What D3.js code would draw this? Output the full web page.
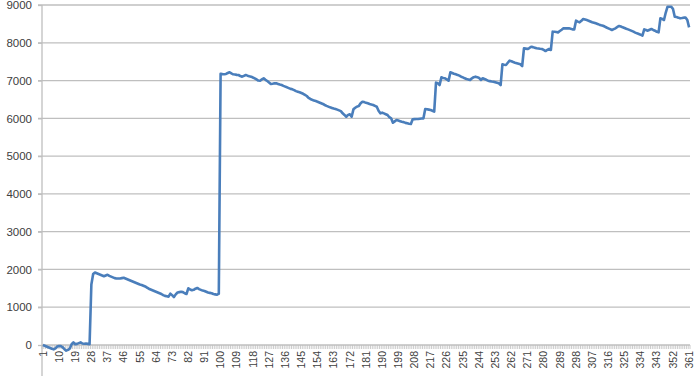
<!DOCTYPE html>
<html>
<head>
<meta charset="utf-8">
<script src="https://cdn.jsdelivr.net/npm/d3@7"></script>
<style>
  body { margin: 0; background: #fff; }
  svg text { font-family: "Liberation Sans", Arial, sans-serif; fill: #404040; }
</style>
</head>
<body>
<svg id="chart" width="700" height="376"></svg>
<script>
// values, ten per row (category 1..361)
const values = [].concat(
  [0, -20, -40, -60, -80, -100, -115, -90, -40, -25],
  [-30, -60, -110, -150, -130, -90, 20, 70, 20, 30],
  [50, 70, 40, 35, 40, 30, 20, 1600, 1880, 1920],
  [1900, 1880, 1860, 1840, 1820, 1840, 1860, 1830, 1810, 1790],
  [1770, 1760, 1760, 1760, 1770, 1780, 1760, 1740, 1720, 1700],
  [1680, 1660, 1640, 1620, 1600, 1590, 1570, 1550, 1520, 1490],
  [1470, 1450, 1430, 1410, 1390, 1370, 1350, 1320, 1300, 1290],
  [1280, 1360, 1320, 1270, 1340, 1390, 1400, 1410, 1400, 1370],
  [1350, 1500, 1470, 1450, 1460, 1490, 1510, 1480, 1460, 1440],
  [1430, 1410, 1390, 1380, 1370, 1350, 1340, 1330, 1360, 7180],
  [7170, 7165, 7175, 7200, 7220, 7190, 7165, 7160, 7150, 7147],
  [7120, 7103, 7125, 7147, 7130, 7115, 7103, 7080, 7059, 7030],
  [7000, 6996, 7030, 7059, 7020, 6988, 6950, 6909, 6915, 6926],
  [6926, 6910, 6895, 6882, 6860, 6840, 6821, 6800, 6780, 6768],
  [6745, 6720, 6705, 6690, 6670, 6650, 6620, 6591, 6540, 6512],
  [6490, 6470, 6458, 6440, 6420, 6400, 6380, 6353, 6330, 6310],
  [6291, 6275, 6260, 6247, 6230, 6210, 6190, 6132, 6090, 6043],
  [6090, 6106, 6043, 6238, 6280, 6310, 6326, 6400, 6440, 6430],
  [6410, 6397, 6380, 6365, 6353, 6330, 6308, 6200, 6132, 6150],
  [6130, 6110, 6089, 6030, 6000, 5884, 5920, 5956, 5940, 5925],
  [5911, 5900, 5880, 5868, 5855, 5850, 5974, 5980, 5982, 5982],
  [5990, 5995, 6000, 6247, 6240, 6230, 6220, 6200, 6176, 6944],
  [6930, 6882, 7085, 7070, 7059, 7030, 6996, 7218, 7200, 7180],
  [7165, 7150, 7130, 7103, 7085, 7060, 7041, 7030, 7015, 7060],
  [7090, 7103, 7090, 7068, 7015, 7059, 7040, 7020, 6996, 6985],
  [6975, 6970, 6955, 6940, 6926, 6882, 7430, 7420, 7412, 7470],
  [7526, 7510, 7490, 7473, 7460, 7445, 7430, 7385, 7853, 7845],
  [7835, 7860, 7896, 7885, 7870, 7853, 7848, 7840, 7835, 7810],
  [7782, 7810, 7835, 7809, 8294, 8290, 8285, 8276, 8310, 8345],
  [8382, 8382, 8382, 8382, 8370, 8355, 8355, 8585, 8560, 8541],
  [8580, 8629, 8615, 8600, 8585, 8565, 8545, 8532, 8515, 8497],
  [8480, 8465, 8452, 8430, 8405, 8382, 8360, 8338, 8360, 8382],
  [8420, 8444, 8430, 8409, 8390, 8370, 8355, 8335, 8315, 8294],
  [8270, 8250, 8232, 8215, 8188, 8355, 8340, 8320, 8345, 8364],
  [8340, 8320, 8290, 8276, 8647, 8630, 8603, 8800, 8955, 8955],
  [8955, 8900, 8691, 8680, 8665, 8647, 8655, 8665, 8670, 8603, 8409]
);
const categories = values.map((v, i) => i + 1);
const tickLabels = categories.filter((c) => (c - 1) % 9 === 0);
const yTicks = [0, 1000, 2000, 3000, 4000, 5000, 6000, 7000, 8000, 9000];
console.log(values.length);

const svg = d3.select("#chart");
const margin = { left: 42, right: 690, top: 5, bottom: 345 };

const x = d3.scaleBand().domain(categories).range([margin.left, margin.right]).paddingInner(0).paddingOuter(0);
const y = d3.scaleLinear().domain([0, 9000]).range([margin.bottom, margin.top]);

// gridlines
svg.append("g")
  .selectAll("line")
  .data(yTicks.filter((t) => t > 0))
  .join("line")
  .attr("x1", margin.left - 4)
  .attr("x2", margin.right)
  .attr("y1", (d) => y(d))
  .attr("y2", (d) => y(d))
  .attr("stroke", "#bfbfbf")
  .attr("stroke-width", 1.3);

// y axis
const yAxis = svg.append("g")
  .attr("transform", `translate(${margin.left},0)`)
  .call(d3.axisLeft(y).tickValues(yTicks).tickSize(4).tickPadding(6).tickFormat(d3.format("d")));
yAxis.select(".domain").remove();
yAxis.selectAll("line").attr("stroke", "#bfbfbf").attr("stroke-width", 1.3);
yAxis.selectAll("text").style("font-size", "11.5px").attr("fill", "#404040");
svg.append("line")
  .attr("x1", margin.left).attr("x2", margin.left)
  .attr("y1", margin.top).attr("y2", 376)
  .attr("stroke", "#bfbfbf").attr("stroke-width", 1.3);

// x axis: line, a tick at every category boundary, labels every 9th category
svg.append("line")
  .attr("x1", margin.left).attr("x2", margin.right)
  .attr("y1", margin.bottom).attr("y2", margin.bottom)
  .attr("stroke", "#bfbfbf").attr("stroke-width", 1.3);
svg.append("g")
  .selectAll("line")
  .data(categories.concat([null]))
  .join("line")
  .attr("x1", (d) => (d === null ? margin.right : x(d)))
  .attr("x2", (d) => (d === null ? margin.right : x(d)))
  .attr("y1", margin.bottom)
  .attr("y2", margin.bottom + 4)
  .attr("stroke", "#bfbfbf")
  .attr("stroke-width", 0.8);
svg.append("g")
  .selectAll("text")
  .data(tickLabels)
  .join("text")
  .attr("transform", (d) => `translate(${x(d) + x.bandwidth() / 2},${margin.bottom + 6}) rotate(-90)`)
  .attr("text-anchor", "end")
  .attr("dy", "0.35em")
  .style("font-size", "10.5px")
  .text((d) => d);

// series line
const line = d3.line()
  .x((d, i) => x(categories[i]) + x.bandwidth() / 2)
  .y((d) => y(d));
svg.append("path")
  .datum(values)
  .attr("d", line)
  .attr("fill", "none")
  .attr("stroke", "#4a7ebb")
  .attr("stroke-width", 2.6)
  .attr("stroke-linejoin", "round");
</script>
</body>
</html>
